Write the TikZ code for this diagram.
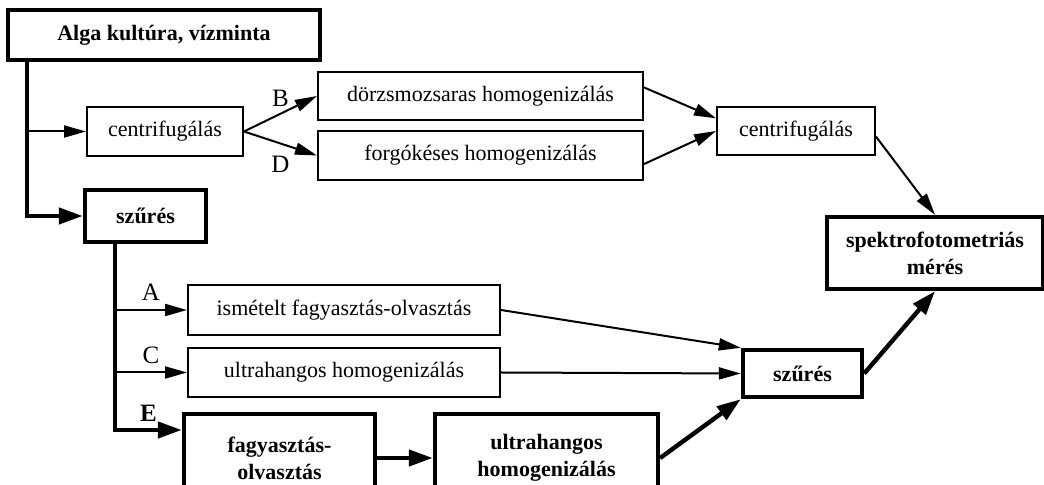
\documentclass[tikz,border=0pt]{standalone}
\usepackage{fontspec}
\setmainfont{Liberation Serif}
\usetikzlibrary{arrows.meta}

\tikzset{
  box/.style={draw, line width=1pt, align=center, inner sep=0pt,
    font=\fontsize{11}{13.5}\selectfont},
  boldbox/.style={box, line width=2.2pt, font=\fontsize{11}{13.5}\selectfont\bfseries},
  thinarrow/.style={line width=1pt, -{Triangle[length=11pt,width=6pt]}},
  thickarrow/.style={line width=2.2pt, -{Triangle[length=12pt,width=8pt]}},
  ltr/.style={font=\fontsize{12.5}{14}\selectfont, inner sep=1pt}
}

\begin{document}
\begin{tikzpicture}[x=0.5pt, y=-0.5pt]
\useasboundingbox (0,0) rectangle (1044,485);
\clip (0,0) rectangle (1044,485);

% dobozok
\node[boldbox, minimum width=156pt, minimum height=25pt] (alga) at (164,35) {Alga kultúra, vízminta};
\node[box, minimum width=78pt, minimum height=24.5pt] (cent1) at (165,131.5) {centrifugálás};
\node[boldbox, minimum width=60.5pt, minimum height=26pt] (szures1) at (145.5,216) {szűrés};
\node[box, minimum width=162.5pt, minimum height=24pt] (dorzs) at (480.5,96) {dörzsmozsaras homogenizálás};
\node[box, minimum width=162.5pt, minimum height=24.5pt] (forgo) at (480.5,155.5) {forgókéses homogenizálás};
\node[box, minimum width=79pt, minimum height=24pt] (cent2) at (796,131) {centrifugálás};
\node[boldbox, minimum width=108pt, minimum height=36pt] (spektro) at (935,253) {spektrofotometriás\\mérés};
\node[box, minimum width=156pt, minimum height=25pt] (ismetelt) at (344,310) {ismételt fagyasztás-olvasztás};
\node[box, minimum width=156pt, minimum height=24.5pt] (ultrah) at (344,372.5) {ultrahangos homogenizálás};
\node[boldbox, minimum width=95.5pt, minimum height=44pt] (fagy) at (279.5,458) {fagyasztás-\\olvasztás};
\node[boldbox, minimum width=111.5pt, minimum height=44pt] (ultra2) at (546.5,458) {ultrahangos\\homogenizálás};
\node[boldbox, minimum width=59.5pt, minimum height=23.5pt] (szures2) at (802.5,373.5) {szűrés};

% felső ág
\coordinate (trunk1) at (27,60);
\draw[thickarrow] (trunk1) |- (szures1);
\draw[thinarrow] (trunk1 |- cent1) -- (cent1);
\draw[thinarrow] (cent1.east) -- node[ltr, above=2pt] {B} (dorzs.west);
\draw[thinarrow] (cent1.east) -- node[ltr, below=5pt] {D} (forgo.west);
\draw[thinarrow] (dorzs.3) -- (cent2.171);
\draw[thinarrow] (forgo.-3) -- (cent2.west);
\draw[thinarrow] (cent2.-4) -- (spektro.north);

% alsó ág
\coordinate (trunk2) at (115,242);
\coordinate (ebranch) at (115,430);
\draw[thickarrow] (trunk2) -- (ebranch) -- node[ltr, above=2pt, font=\fontsize{12.5}{14}\selectfont\bfseries] {E} (ebranch -| fagy.west);
\draw[thinarrow] (trunk2 |- ismetelt) -- node[ltr, above=3pt] {A} (ismetelt);
\draw[thinarrow] (trunk2 |- ultrah) -- node[ltr, above=3pt] {C} (ultrah);
\draw[thickarrow] (fagy) -- (ultra2);
\draw[thinarrow] (ismetelt.east) -- (szures2.north west);
\draw[thinarrow] (ultrah.east) -- (szures2.west);
\draw[thickarrow] (ultra2.east) -- (szures2.south west);
\draw[thickarrow] (szures2.east) -- (spektro.south);
\end{tikzpicture}
\end{document}
